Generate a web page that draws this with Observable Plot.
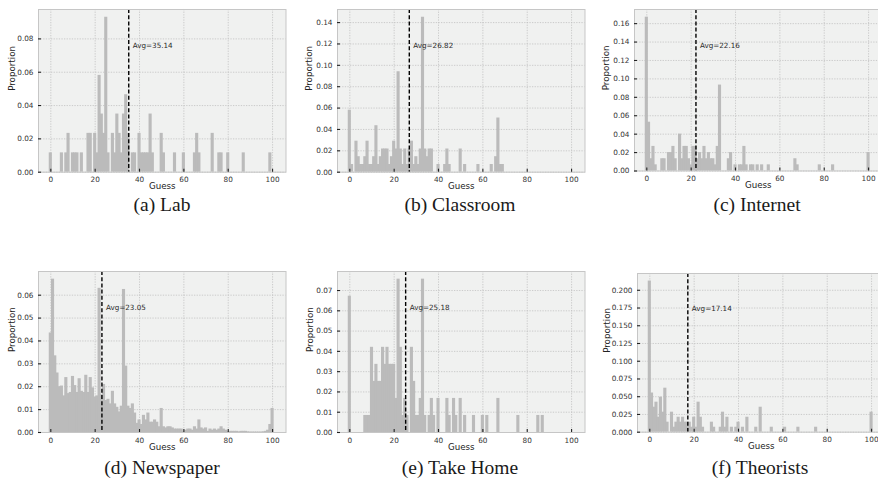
<!DOCTYPE html>
<html><head><meta charset="utf-8">
<script src="https://cdn.jsdelivr.net/npm/d3@7"></script>
<script src="https://cdn.jsdelivr.net/npm/@observablehq/plot@0.6"></script>
<style>
html,body{margin:0;padding:0;background:#fff;overflow:hidden;}
#root{position:relative;width:878px;height:488px;overflow:hidden;}
.panel{position:absolute;}
.panel svg{max-width:none !important;display:block;}
.cap{position:absolute;font-family:"Liberation Serif",serif;font-size:19.5px;color:#1a1a1a;transform:translate(-50%,-50%);white-space:nowrap;}
</style></head><body><div id="root"></div>
<script>
// ---- data: [guess, proportion] ----
const labBins = [[0,.0116],[5,.0116],[7,.0116],[8,.0233],[10,.0116],[11,.0116],[12,.0116],[14,.0116],[17,.0233],[18,.0233],[20,.0233],[21,.0116],[22,.0581],[23,.0349],[24,.0233],[25,.093],[26,.0116],[28,.0233],[29,.0116],[30,.0349],[31,.0233],[32,.0116],[33,.0349],[34,.0465],[35,.0233],[37,.0116],[38,.0116],[40,.0233],[41,.0116],[42,.0116],[43,.0116],[44,.0116],[45,.0349],[46,.0116],[50,.0233],[51,.0116],[56,.0116],[60,.0116],[65,.0116],[66,.0233],[67,.0116],[73,.0233],[76,.0116],[77,.0116],[80,.0116],[87,.0116],[99,.0116]];
const classroomBins = [[0,.058],[1,.0072],[3,.029],[4,.0145],[5,.0072],[6,.0072],[7,.0145],[8,.029],[9,.0072],[10,.0072],[11,.0145],[12,.0435],[13,.0072],[14,.0145],[15,.0217],[16,.0217],[17,.0217],[18,.0072],[19,.0145],[20,.029],[21,.0217],[22,.094],[23,.0217],[24,.0072],[25,.0217],[26,.0072],[27,.0217],[28,.029],[29,.0072],[30,.0145],[31,.0072],[32,.0217],[33,.145],[34,.0217],[35,.0145],[36,.0217],[37,.0217],[40,.0072],[43,.0072],[44,.0217],[45,.0072],[50,.0217],[52,.0072],[58,.0072],[64,.0072],[66,.0145],[67,.0507],[68,.0072],[69,.0072]];
const internetBins = [[0,.167],[1,.053],[2,.0133],[3,.0267],[4,.0067],[7,.0133],[8,.0133],[10,.02],[11,.02],[12,.0267],[13,.0133],[15,.04],[16,.0133],[17,.0267],[18,.0267],[19,.0133],[20,.0067],[21,.0267],[22,.0267],[23,.0133],[24,.02],[25,.0133],[26,.0267],[27,.0133],[28,.02],[29,.0133],[30,.0133],[31,.0067],[32,.0267],[33,.0933],[37,.0133],[38,.02],[40,.0067],[42,.0067],[43,.0067],[44,.0267],[45,.0067],[47,.0067],[48,.0067],[50,.0067],[52,.0067],[55,.0067],[67,.0133],[68,.0067],[78,.0067],[84,.0067],[100,.02]];
const newspaperBins = [[0,.0435],[1,.067],[2,.0335],[3,.026],[4,.020],[5,.0203],[6,.016],[7,.024],[8,.017],[9,.0175],[10,.0245],[11,.0205],[12,.0175],[13,.0235],[14,.018],[15,.0175],[16,.025],[17,.0175],[18,.024],[19,.0195],[20,.0155],[21,.016],[22,.063],[23,.0165],[24,.021],[25,.014],[26,.0145],[27,.0125],[28,.018],[29,.0125],[30,.011],[31,.009],[32,.0115],[33,.0625],[34,.029],[35,.0115],[36,.0105],[37,.0125],[38,.0085],[39,.004],[40,.0055],[41,.0035],[42,.0075],[43,.0055],[44,.0085],[45,.0045],[46,.0045],[47,.0055],[48,.0045],[49,.0025],[50,.0105],[51,.0025],[52,.002],[53,.0025],[54,.0025],[55,.002],[56,.0015],[57,.0015],[58,.0015],[59,.0015],[60,.0005],[61,.001],[62,.0015],[63,.0015],[64,.001],[65,.0025],[66,.0015],[67,.0055],[68,.002],[69,.0015],[70,.002],[71,.0005],[72,.0015],[73,.001],[74,.0015],[75,.001],[76,.0015],[77,.0025],[78,.0015],[79,.001],[80,.0005],[81,.0005],[82,.0005],[83,.0005],[84,.0005],[85,.0003],[86,.0005],[87,.0005],[88,.0005],[89,.0003],[90,.0002],[91,.0002],[92,.0002],[93,.0002],[94,.0002],[95,.0002],[96,.0003],[97,.0005],[98,.001],[99,.0035],[100,.0105]];
const takeHomeBins = [[0,.0672],[7,.0084],[8,.0084],[9,.0084],[10,.042],[11,.0252],[12,.0336],[13,.0252],[14,.0252],[15,.042],[16,.0336],[17,.042],[18,.0336],[19,.0336],[20,.0336],[21,.0168],[22,.0756],[23,.042],[24,.0084],[25,.0168],[26,.0084],[28,.042],[29,.0252],[30,.0084],[31,.0084],[32,.0168],[33,.0756],[34,.0084],[36,.0084],[37,.0168],[38,.0084],[40,.0168],[44,.0168],[45,.0084],[47,.0168],[48,.0084],[50,.0168],[52,.0084],[56,.0084],[60,.0084],[62,.0084],[67,.0168],[76,.0084],[85,.0084],[87,.0084]];
const theoristsBins = [[0,.213],[1,.0552],[2,.0352],[3,.0423],[4,.0211],[5,.0493],[6,.0282],[7,.062],[8,.0141],[10,.0282],[11,.007],[12,.0141],[13,.0211],[14,.0141],[15,.0211],[16,.0141],[17,.0141],[18,.0141],[19,.007],[20,.0211],[21,.007],[22,.0423],[23,.0211],[24,.007],[28,.0141],[29,.007],[32,.007],[33,.0282],[34,.007],[35,.0211],[37,.007],[39,.007],[40,.0141],[42,.007],[44,.0211],[48,.007],[50,.0352],[55,.007],[61,.007],[67,.007],[75,.007],[100,.0282]];

const captions = ["(a) Lab","(b) Classroom","(c) Internet","(d) Newspaper","(e) Take Home","(f) Theorists"];
const averages = [35.14, 26.82, 22.16, 23.05, 25.18, 17.14];
const xTicks = [0,20,40,60,80,100];
const yTicksA = [0,0.02,0.04,0.06,0.08];
const yTicksB = [0,0.02,0.04,0.06,0.08,0.10,0.12,0.14];
const yTicksC = [0,0.02,0.04,0.06,0.08,0.10,0.12,0.14,0.16];
const yTicksD = [0,0.01,0.02,0.03,0.04,0.05,0.06];
const yTicksE = [0,0.01,0.02,0.03,0.04,0.05,0.06,0.07];
const yTicksF = [0,0.025,0.05,0.075,0.1,0.125,0.15,0.175,0.2];
const tickFormats = [".2f",".2f",".2f",".2f",".2f",".3f"];

const binsList = [labBins, classroomBins, internetBins, newspaperBins, takeHomeBins, theoristsBins];
const yTicksList = [yTicksA, yTicksB, yTicksC, yTicksD, yTicksE, yTicksF];

// ---- layout (pixels) ----
const layout = [
  {left:38.3, top:9,     h:162.7, ylab:-26,   capX:162, capY:205},
  {left:336.7,top:9,     h:162.7, ylab:-28.4, capX:460, capY:205},
  {left:634.3,top:9,     h:161.5, ylab:-28.3, capX:757, capY:205},
  {left:38.3, top:270.7, h:161,   ylab:-26.7, capX:162, capY:468},
  {left:336.7,top:270.7, h:161,   ylab:-27.7, capX:460, capY:468},
  {left:637.3,top:273.3, h:158.7, ylab:-30.6, capX:760, capY:468}
];

const root = document.getElementById("root");
const ML=44, MR=8, MT=6, MB=30, FW=247.5;

binsList.forEach((bins, i) => {
  const L = layout[i];
  const yTicks = yTicksList[i];
  const avg = averages[i];
  const ymax = d3.max(bins, d => d[1]);
  const yTop = ymax * 1.05;
  const gridStyle = {stroke:"#c2c2c2", strokeOpacity:1, strokeWidth:0.8, strokeDasharray:"1.3,1.3"};
  const W = ML+FW+MR, H = MT+L.h+MB;
  const chart = Plot.plot({
    width: W, height: H,
    marginLeft: ML, marginRight: MR, marginTop: MT, marginBottom: MB,
    x: {domain: [-5.55, 106.05], axis: null},
    y: {domain: [0, yTop], axis: null},
    style: {fontFamily: "DejaVu Sans", background: "transparent", overflow: "visible", maxWidth: "none"},
    marks: [
      Plot.frame({fill: "#f0f1f0", stroke: null}),
      Plot.gridX(xTicks, gridStyle),
      Plot.gridY(yTicks, gridStyle),
      Plot.rectY(bins, {x1: d => d[0]-0.5, x2: d => d[0]+0.5, y: d => d[1], fill: "#bbbbbb", insetLeft: -0.45, insetRight: -0.45}),
      Plot.ruleX([avg], {stroke: "#000", strokeWidth: 1.4, strokeDasharray: "4,2.2"}),
      Plot.text([avg], {x: d => d, y: ymax*0.8, text: d => "Avg=" + d.toFixed(2), textAnchor: "start", lineAnchor: "bottom", dx: 4, fontSize: 7.2, fill: "#2a2a2a"}),
      Plot.frame({stroke: "#c6c6c6", strokeWidth: 1}),
      Plot.ruleX(xTicks, {stroke: "#222", strokeWidth: 1.1, insetTop: L.h-3}),
      Plot.ruleY(yTicks, {stroke: "#222", strokeWidth: 1.1, insetRight: FW-3}),
      Plot.axisX(xTicks, {tickSize: 0, tickPadding: 5, fontSize: 7.3, fill: "#333", label: null}),
      Plot.axisY(yTicks, {tickSize: 0, tickPadding: 5, fontSize: 7.3, fill: "#333", label: null, tickFormat: d3.format(tickFormats[i])}),
      Plot.text(["Guess"], {text: d => d, frameAnchor: "bottom", dy: 14.5, lineAnchor: "middle", fontSize: 8.7, fill: "#222"}),
      Plot.text(["Proportion"], {text: d => d, frameAnchor: "left", rotate: -90, dx: L.ylab, lineAnchor: "middle", fontSize: 8.7, fill: "#222"})
    ]
  });
  chart.style.maxWidth = "none";
  chart.setAttribute("width", W);
  chart.style.width = W + "px";
  const wrap = document.createElement("div");
  wrap.className = "panel";
  wrap.style.left = (L.left - ML) + "px";
  wrap.style.top = (L.top - MT) + "px";
  wrap.style.width = W + "px";
  wrap.style.height = H + "px";
  wrap.appendChild(chart);
  root.appendChild(wrap);

  const cap = document.createElement("div");
  cap.className = "cap";
  cap.style.left = L.capX + "px";
  cap.style.top = L.capY + "px";
  cap.textContent = captions[i];
  root.appendChild(cap);
});
</script></body></html>
